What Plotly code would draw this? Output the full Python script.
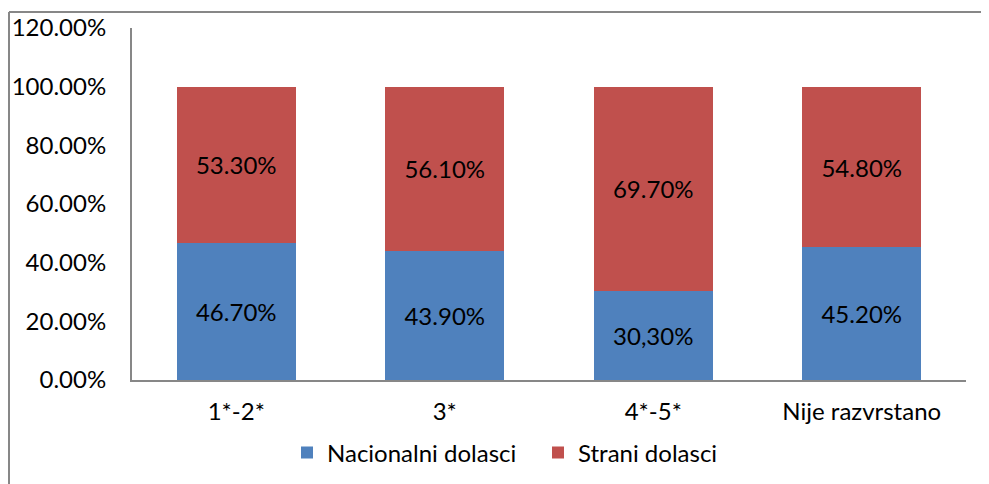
import plotly.graph_objects as go

categories = ["1*-2*", "3*", "4*-5*", "Nije razvrstano"]
nacionalni = [46.7, 43.9, 30.3, 45.2]
strani = [53.3, 56.1, 69.7, 54.8]
nacionalni_labels = ["46.70%", "43.90%", "30,30%", "45.20%"]
strani_labels = ["53.30%", "56.10%", "69.70%", "54.80%"]
y_ticks = [0, 20, 40, 60, 80, 100, 120]
y_ticktext = ["0.00%", "20.00%", "40.00%", "60.00%", "80.00%", "100.00%", "120.00%"]

FONT = "Lato"
FS = 24
BLUE = "#4F81BD"
RED = "#C0504D"
GRAY = "#878787"

# page body has an 8px default margin
OFF = 8
W, H = 989 - OFF, 484 - OFF
# plot area in screen pixels
SX0, SX1, SY0, SY1 = 132, 966, 28, 380
L = SX0 - OFF
R = W - (SX1 - OFF)
T = SY0 - OFF
B = H - (SY1 - OFF)
pw = SX1 - SX0
ph = SY1 - SY0


def px_x(p):
    return (p - SX0) / pw


def px_y(p):
    return (SY1 - p) / ph


fig = go.Figure()
fig.add_trace(go.Bar(
    name="Nacionalni dolasci", x=categories, y=nacionalni,
    text=nacionalni_labels, textposition="inside", insidetextanchor="middle",
    textfont=dict(family=FONT, size=FS, color="black"),
    marker=dict(color=BLUE, line=dict(width=0)),
    legend="legend",
))
fig.add_trace(go.Bar(
    name="Strani dolasci", x=categories, y=strani,
    text=strani_labels, textposition="inside", insidetextanchor="middle",
    textfont=dict(family=FONT, size=FS, color="black"),
    marker=dict(color=RED, line=dict(width=0)),
    legend="legend2",
))

legend_common = dict(
    orientation="h", yanchor="middle", xanchor="left", y=px_y(453),
    font=dict(family=FONT, size=FS, color="black"),
    itemwidth=30, bgcolor="rgba(0,0,0,0)",
)

fig.update_layout(
    width=W, height=H,
    barmode="stack", bargap=0.43,
    margin=dict(l=L, r=R, t=T, b=B, autoexpand=False),
    paper_bgcolor="white", plot_bgcolor="white",
    font=dict(family=FONT, size=FS, color="black"),
    showlegend=True,
    uniformtext=dict(minsize=FS, mode="show"),
    legend=dict(x=px_x(287), **legend_common),
    legend2=dict(x=px_x(538), **legend_common),
    xaxis=dict(
        showline=True, linecolor=GRAY, linewidth=2, ticks="", showgrid=False,
        tickfont=dict(family=FONT, size=FS, color="black"),
        ticklabelstandoff=9,
    ),
    yaxis=dict(
        range=[0, 120], tickvals=y_ticks, ticktext=y_ticktext,
        showline=True, linecolor=GRAY, linewidth=2, ticks="", showgrid=False,
        zeroline=False,
        tickfont=dict(family=FONT, size=FS, color="black"),
        ticklabelstandoff=19,
    ),
    shapes=[
        dict(type="line", xref="paper", yref="paper",
             x0=px_x(9), x1=px_x(1000), y0=px_y(12), y1=px_y(12),
             line=dict(color=GRAY, width=2)),
        dict(type="line", xref="paper", yref="paper",
             x0=px_x(9), x1=px_x(9), y0=px_y(12), y1=px_y(500),
             line=dict(color=GRAY, width=2)),
    ],
)

fig.write_html("out.html")
